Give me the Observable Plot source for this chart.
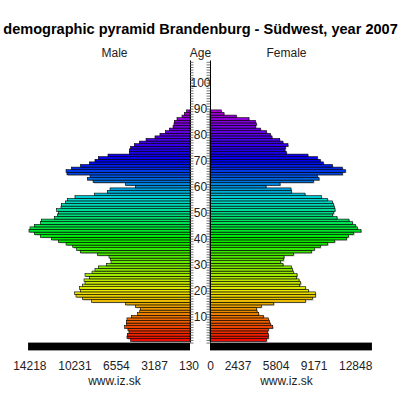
<!DOCTYPE html>
<html><head><meta charset="utf-8">
<script src="https://cdn.jsdelivr.net/npm/d3@7"></script>
<script src="https://cdn.jsdelivr.net/npm/@observablehq/plot@0.6"></script>
<style>html,body{margin:0;padding:0;background:#fff}</style>
</head><body><div id="c"></div>
<script>
const titleText = "demographic pyramid Brandenburg - Südwest, year 2007";
const male = [5250,5580,5550,5400,5490,5780,5630,5630,5580,5190,4630,4450,4400,4840,5720,8700,9530,10090,10210,9680,9790,9500,9290,9380,8910,9290,8670,8410,8110,7380,6990,7050,7170,8200,9710,10030,10380,10970,11650,12240,13250,13780,14250,14160,13780,13250,13160,12010,11740,11650,11800,11420,11390,11030,10830,10180,8470,7320,7080,4840,5720,8580,9090,8850,10890,10970,10500,9680,8910,8410,8110,7260,5370,5370,5250,4930,4480,3890,3100,2660,2180,1830,1500,1420,1390,1150,710,500,300];
const female = [4990,5160,5160,5070,5160,5550,5370,5250,5160,4720,4310,4160,4100,4540,5630,8440,9060,9320,9320,8700,8440,7940,8020,7880,7640,7700,7380,7290,7200,6460,6250,6490,6550,7380,8970,9230,9760,10410,11030,12070,12240,12710,13360,13040,12890,12600,12300,11240,10830,10940,11060,11000,10940,10830,10410,9850,8410,7200,7170,4960,6200,9150,9650,9500,11710,11980,11710,10830,10030,9760,9500,8670,6760,6640,6670,6900,6460,6170,5490,5340,4990,4480,4040,4100,4010,3450,2330,1240,1000];
const maleTicks = [14218,10231,6554,3187,130];
const femaleTicks = [0,2437,5804,9171,12848];
const ageLabels = [10,20,30,40,50,60,70,80,90,100];
const ageTicks = d3.range(0,109);
const gap = 885;
const baseValue = 14330;
const ages = male.map((_,i)=>i+1);
const colorAges = [0,20,40,55,70,90];
const colorStops = ["#f00000","#e8e800","#00e800","#00d8d0","#0000f0","#b000d0"];
const rows = ages.map((a,i)=>({age:a,m:male[i],f:female[i]}));
const font = "Liberation Sans, Arial, sans-serif";
const shadow = {fill:"#aaa",dx:1,dy:0.8};
const barY = {y1:d=>d.age-0.5,y2:d=>d.age+0.5};
document.getElementById("c").append(Plot.plot({
  width:400,height:400,margin:0,
  style:{fontFamily:font,background:"#fff"},
  x:{axis:null,domain:[-17700,17700]},
  y:{axis:null,domain:[-22.08,131.77]},
  color:{type:"linear",domain:colorAges,range:colorStops},
  marks:[
    Plot.rectX(rows,{x1:-gap,x2:d=>-gap-d.m,...barY,...shadow}),
    Plot.rectX(rows,{x1:gap,x2:d=>gap+d.f,...barY,...shadow}),
    Plot.rectX(rows,{x1:-gap,x2:d=>-gap-d.m,...barY,fill:"age",stroke:"#000",strokeWidth:0.6}),
    Plot.rectX(rows,{x1:gap,x2:d=>gap+d.f,...barY,fill:"age",stroke:"#000",strokeWidth:0.6}),
    Plot.rectX([baseValue],{x1:-gap,x2:d=>-gap-d,y1:-3,y2:0,fill:"#000"}),
    Plot.rectX([baseValue],{x1:gap,x2:d=>gap+d,y1:-3,y2:0,fill:"#000"}),
    Plot.ruleX([-gap,gap],{y1:0,y2:108.5,stroke:"#000",strokeWidth:1}),
    Plot.ruleY(ageTicks,{x1:-gap,x2:-gap+310,stroke:"#555",strokeWidth:0.8}),
    Plot.ruleY(ageTicks,{x1:gap,x2:gap-310,stroke:"#555",strokeWidth:0.8}),
    Plot.text(ageLabels,{x:0,y:d=>d,text:d=>String(d),fontSize:12,fill:"#222",letterSpacing:"2px"}),
    Plot.text(maleTicks,{x:d=>-gap-d,y:-9,text:d=>String(d),fontSize:12,fill:"#222",letterSpacing:"0.5px"}),
    Plot.text(femaleTicks,{x:d=>gap+d,y:-9,text:d=>String(d),fontSize:12,fill:"#222",letterSpacing:"0.5px"}),
    Plot.text(["www.iz.sk"],{x:-7610,y:-14.5,fontSize:12,fill:"#222",letterSpacing:"0.3px"}),
    Plot.text(["www.iz.sk"],{x:7610,y:-14.5,fontSize:12,fill:"#222",letterSpacing:"0.3px"}),
    Plot.text(["Male"],{x:-7610,y:111.5,fontSize:12,fill:"#222"}),
    Plot.text(["Age"],{x:0,y:111.5,fontSize:12,fill:"#222"}),
    Plot.text(["Female"],{x:7610,y:111.5,fontSize:12,fill:"#222"}),
    Plot.text([titleText],{x:0,y:120.5,fontSize:14.55,fontWeight:"bold",fill:"#000"})
  ]
}));
</script></body></html>
